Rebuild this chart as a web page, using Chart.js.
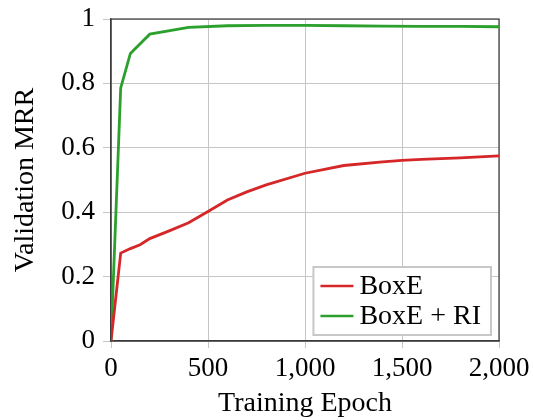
<!DOCTYPE html>
<html>
<head>
<meta charset="utf-8">
<script src="https://cdn.jsdelivr.net/npm/chart.js@4/dist/chart.umd.min.js"></script>
<style>
  html, body { margin: 0; padding: 0; background: #fff; }
  #wrap { width: 533px; height: 420px; position: relative; }
</style>
</head>
<body>
<div id="wrap"><canvas id="chart"></canvas></div>
<script>
// ---- data ----
const boxeEpochs = [0, 50, 100, 150, 200, 300, 400, 500, 600, 700, 800, 1000, 1200, 1400, 1500, 1600, 1800, 2000];
const boxeMrr    = [0, 0.273, 0.287, 0.299, 0.318, 0.342, 0.367, 0.402, 0.438, 0.463, 0.485, 0.521, 0.545, 0.556, 0.561, 0.564, 0.569, 0.575];

const boxeRiEpochs = [0, 50, 100, 200, 400, 600, 800, 1000, 1200, 1400, 1600, 1800, 2000];
const boxeRiMrr    = [0, 0.786, 0.893, 0.953, 0.974, 0.979, 0.980, 0.980, 0.979, 0.978, 0.977, 0.977, 0.976];

const seriesNames = ['BoxE', 'BoxE + RI'];
const xTicks = [0, 500, 1000, 1500, 2000];
const yTicks = [0, 0.2, 0.4, 0.6, 0.8, 1];

const FONT = "'Liberation Serif', 'DejaVu Serif', serif";
const gridColor = '#c6c6c6';
const axisColor = '#3a3a3a';

const toPoints = (xs, ys) => xs.map((x, i) => ({ x: x, y: ys[i] }));

// frame on top/right + legend box inside the plot (pgfplots style)
const framePlugin = {
    id: 'frame',
    beforeDatasetsDraw(chart) {
        const a = chart.chartArea, ctx = chart.ctx;
        ctx.save();
        ctx.strokeStyle = axisColor;
        ctx.lineWidth = 1.2;
        ctx.strokeRect(a.left, a.top, a.right - a.left, a.bottom - a.top);
        ctx.restore();
    },
    afterDraw(chart) {
        const a = chart.chartArea, ctx = chart.ctx;
        const sets = chart.data.datasets;
        ctx.save();
        ctx.font = '28px ' + FONT;
        let textW = 0;
        sets.forEach(ds => { textW = Math.max(textW, ctx.measureText(ds.label).width); });
        const rowH = 30, padL = 7, lineLen = 33, gap = 6, padR = 10;
        const w = padL + lineLen + gap + textW + padR;
        const h = rowH * sets.length + 8;
        const x0 = a.right - 8 - w;
        const y0 = a.bottom - 6 - h;
        ctx.fillStyle = '#fff';
        ctx.fillRect(x0, y0, w, h);
        ctx.strokeStyle = '#c8c8c8';
        ctx.lineWidth = 2;
        ctx.strokeRect(x0, y0, w, h);
        ctx.textBaseline = 'middle';
        sets.forEach((ds, i) => {
            const cy = y0 + 4 + rowH * i + rowH / 2;
            ctx.strokeStyle = ds.borderColor;
            ctx.lineWidth = 2.6;
            ctx.beginPath();
            ctx.moveTo(x0 + padL, cy);
            ctx.lineTo(x0 + padL + lineLen, cy);
            ctx.stroke();
            ctx.fillStyle = '#000';
            ctx.fillText(ds.label, x0 + padL + lineLen + gap, cy + 1);
        });
        ctx.restore();
    }
};

new Chart(document.getElementById('chart'), {
    type: 'line',
    data: {
        datasets: [
            {
                label: seriesNames[0],
                data: toPoints(boxeEpochs, boxeMrr),
                borderColor: '#d62728',
                borderWidth: 2.8,
                pointRadius: 0,
                tension: 0,
                fill: false
            },
            {
                label: seriesNames[1],
                data: toPoints(boxeRiEpochs, boxeRiMrr),
                borderColor: '#2ca02c',
                borderWidth: 2.8,
                pointRadius: 0,
                tension: 0,
                fill: false
            }
        ]
    },
    options: {
        responsive: true,
        maintainAspectRatio: false,
        animation: false,
        layout: { padding: { top: 19, right: 34, left: 0, bottom: 0 } },
        plugins: {
            legend: { display: false },
            tooltip: { enabled: false }
        },
        scales: {
            x: {
                type: 'linear',
                min: 0,
                max: 2000,
                afterFit: s => { s.height = 79; s.paddingLeft = 0; s.paddingRight = 0; },
                afterBuildTicks: s => { s.ticks = xTicks.map(v => ({ value: v })); },
                ticks: {
                    color: '#000',
                    font: { family: FONT, size: 27 },
                    padding: 5,
                    maxRotation: 0,
                    callback: v => v.toLocaleString('en-US')
                },
                grid: { color: gridColor, lineWidth: 1, tickLength: 7 },
                border: { color: axisColor, width: 1.2 },
                title: {
                    display: true,
                    text: 'Training Epoch',
                    color: '#000',
                    font: { family: FONT, size: 28 },
                    padding: { top: 0, bottom: 0 }
                }
            },
            y: {
                min: 0,
                max: 1,
                afterFit: s => { s.width = 111; s.paddingTop = 0; s.paddingBottom = 0; },
                afterBuildTicks: s => { s.ticks = yTicks.map(v => ({ value: v })); },
                ticks: {
                    color: '#000',
                    font: { family: FONT, size: 27 },
                    padding: 8,
                    callback: v => String(v)
                },
                grid: { color: gridColor, lineWidth: 1, tickLength: 8 },
                border: { color: axisColor, width: 1.2 },
                title: {
                    display: true,
                    text: 'Validation MRR',
                    color: '#000',
                    font: { family: FONT, size: 28 },
                    padding: { top: 9, bottom: 0 }
                }
            }
        }
    },
    plugins: [framePlugin]
});
</script>
</body>
</html>
